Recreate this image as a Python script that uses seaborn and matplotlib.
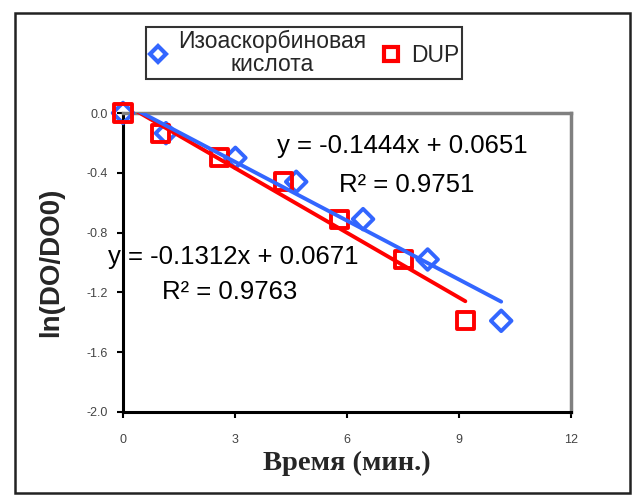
import numpy as np
import pandas as pd
import seaborn as sns
import matplotlib.pyplot as plt
from matplotlib.patches import Rectangle
from matplotlib.lines import Line2D

# Time points (min) and ln(DO/DO0) for each antioxidant
time_iso = [0.0, 1.15, 3.01, 4.64, 6.43, 8.16, 10.13]
lnDO_iso = [0.0, -0.135, -0.30, -0.46, -0.71, -0.98, -1.39]
time_dup = [0.0, 1.01, 2.59, 4.29, 5.81, 7.52, 9.17]
lnDO_dup = [0.0, -0.135, -0.30, -0.46, -0.71, -0.98, -1.39]

# Linear trend coefficients (slope, intercept) and R^2
trend_iso = (-0.1312, 0.0671, 0.9763)
trend_dup = (-0.1444, 0.0651, 0.9751)

label_iso = "Изоаскорбиновая\nкислота"
label_dup = "DUP"
x_ticks = [0, 3, 6, 9, 12]
y_ticks = [0.0, -0.4, -0.8, -1.2, -1.6, -2.0]

BLUE = "#3366FF"
RED = "#FF0000"

sns.set_theme(style="white")
plt.rcParams['font.family'] = ['Liberation Sans', 'DejaVu Sans']

fig = plt.figure(figsize=(6.32, 4.95), dpi=100)
ax = fig.add_axes([123 / 632, 1 - 412 / 495, 448 / 632, 299 / 495])

df_iso = pd.DataFrame({"t": time_iso, "y": lnDO_iso})
df_dup = pd.DataFrame({"t": time_dup, "y": lnDO_dup})

sns.scatterplot(data=df_iso, x="t", y="y", ax=ax, marker="D", s=110,
                facecolor="none", edgecolor=BLUE, linewidth=2.8, zorder=3,
                clip_on=False)
sns.scatterplot(data=df_dup, x="t", y="y", ax=ax, marker="s", s=150,
                facecolor="none", edgecolor=RED, linewidth=2.8, zorder=3,
                clip_on=False)

# Trend lines over the span of each series
for tt, (k, b, _), col in [(time_dup, trend_dup, RED), (time_iso, trend_iso, BLUE)]:
    xs = np.array([0.0, max(tt)])
    sns.lineplot(x=xs, y=k * xs + b, ax=ax, color=col, linewidth=2.8, zorder=4)

ax.set_xlim(0, 12)
ax.set_ylim(-2.0, 0.0)
ax.set_xticks(x_ticks)
ax.set_xticklabels([str(v) for v in x_ticks])
ax.set_yticks(y_ticks)
ax.set_yticklabels([f"{v:.1f}" for v in y_ticks])
ax.tick_params(axis="both", labelsize=9, labelcolor="#444444", length=4,
               width=1.5, color="black", direction="out",
               bottom=True, left=True)
ax.tick_params(axis="y", pad=7)
ax.tick_params(axis="x", pad=12)

for side in ("left", "bottom"):
    ax.spines[side].set_color("black")
    ax.spines[side].set_linewidth(2.2)
for side in ("top", "right"):
    ax.spines[side].set_color("#808080")
    ax.spines[side].set_linewidth(2.5)

ax.set_xlabel("Время (мин.)", fontsize=20.5, fontweight="bold",
              family=["Liberation Serif", "DejaVu Serif"], labelpad=3)
ax.set_ylabel("ln(DO/DO0)", fontsize=20, fontweight="bold", labelpad=16)

txt_kw = dict(transform=ax.transAxes, fontsize=18.5, ha="left",
              va="baseline", color="black")
ax.text(0.344, 0.866, f"y = {trend_dup[0]}x + {trend_dup[1]}", **txt_kw)
ax.text(0.482, 0.736, f"R² = {trend_dup[2]}", **txt_kw)
ax.text(-0.033, 0.495, f"y = {trend_iso[0]}x + {trend_iso[1]}", **txt_kw)
ax.text(0.087, 0.378, f"R² = {trend_iso[2]}", **txt_kw)

handles = [
    Line2D([], [], marker="D", linestyle="none", markersize=8,
           markerfacecolor="none", markeredgecolor=BLUE, markeredgewidth=3),
    Line2D([], [], marker="s", linestyle="none", markersize=10,
           markerfacecolor="none", markeredgecolor=RED, markeredgewidth=3),
]
leg = fig.legend(handles, [label_iso, label_dup], ncol=2, loc="upper left",
                 bbox_to_anchor=(146 / 632, 1 - 27 / 495), fontsize=16.5,
                 frameon=True, fancybox=False, handlelength=0.8,
                 handletextpad=0.5, columnspacing=0.65, borderpad=0.12,
                 borderaxespad=0)
leg.get_frame().set_edgecolor("black")
leg.get_frame().set_linewidth(1.5)
for t in leg.get_texts():
    t.set_multialignment("center")
    t.set_linespacing(1.0)

fig.patches.append(Rectangle((15 / 632, 2 / 495), 615 / 632, 480 / 495,
                             transform=fig.transFigure, fill=False,
                             edgecolor="#222222", linewidth=1.8))

fig.savefig("out.png", dpi=100, facecolor="white")
